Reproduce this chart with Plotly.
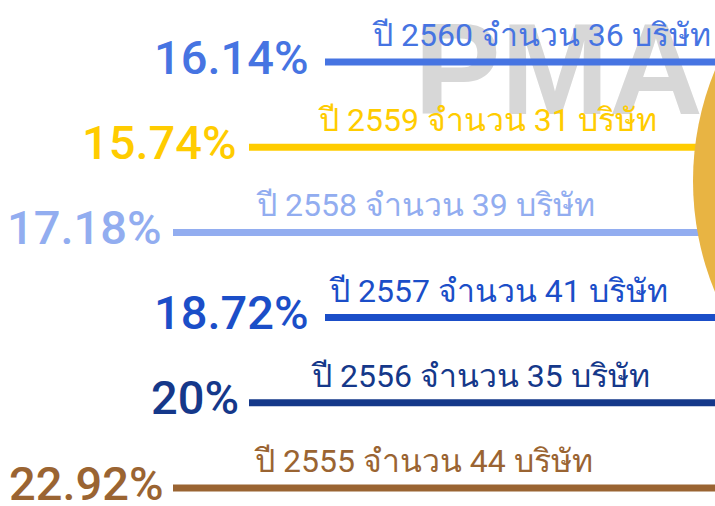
import plotly.graph_objects as go

# ---- data ----
years = [2560, 2559, 2558, 2557, 2556, 2555]
companies = [36, 31, 39, 41, 35, 44]
percents = ["16.14%", "15.74%", "17.18%", "18.72%", "20%", "22.92%"]
labels = [f"ปี {y} จำนวน {c} บริษัท" for y, c in zip(years, companies)]

# ---- styles ----
colors = ["#4674e2", "#ffcc00", "#92adf0", "#1b4ec8", "#15388a", "#9a6432"]
line_start = [325, 249, 173, 325, 249, 173]
pct_gap = [14, 10, 9, 14, 8, 7]
label_dx = [45, 67, 81, 2, 60, 79]
X_END = 715

fig = go.Figure()

# watermark
fig.add_trace(go.Scatter(
    x=[414], y=[2559.777], mode="text", text=["PMA"], textposition="middle right",
    textfont=dict(family="Liberation Sans", size=130, color="#d7d7d7", weight="bold"),
    hoverinfo="skip", showlegend=False))

for i, yr in enumerate(years):
    fig.add_trace(go.Scatter(
        x=[line_start[i], X_END], y=[yr, yr], mode="lines",
        line=dict(color=colors[i], width=7), hoverinfo="skip", showlegend=False))
    fig.add_annotation(
        x=line_start[i] - pct_gap[i], y=yr, text=percents[i], showarrow=False,
        xanchor="right", yanchor="middle", yshift=5,
        font=dict(family="Roboto", size=47, color=colors[i], weight=500))
    fig.add_annotation(
        x=line_start[i] + label_dx[i], y=yr, text=labels[i], showarrow=False,
        xanchor="left", yanchor="bottom", yshift=6,
        font=dict(family="Roboto, Noto Sans, DejaVu Sans, sans-serif", size=32,
                  color=colors[i], weight=400))

# decorative circle on the right
fig.add_shape(type="circle", xref="x", yref="paper", x0=693, x1=1275,
              y0=1 - 472 / 506, y1=1 + 110 / 506, fillcolor="#e8b443",
              line=dict(width=0), layer="above")

fig.update_layout(
    width=715, height=506, margin=dict(l=0, r=0, t=0, b=0),
    paper_bgcolor="white", plot_bgcolor="white",
    xaxis=dict(range=[0, 715], visible=False, fixedrange=True),
    yaxis=dict(range=[2554.789, 2560.728], visible=False, fixedrange=True),
)

fig.write_html("out.html", config={"displayModeBar": False},
               post_script="document.body.style.margin='0';document.body.style.overflow='hidden';")
